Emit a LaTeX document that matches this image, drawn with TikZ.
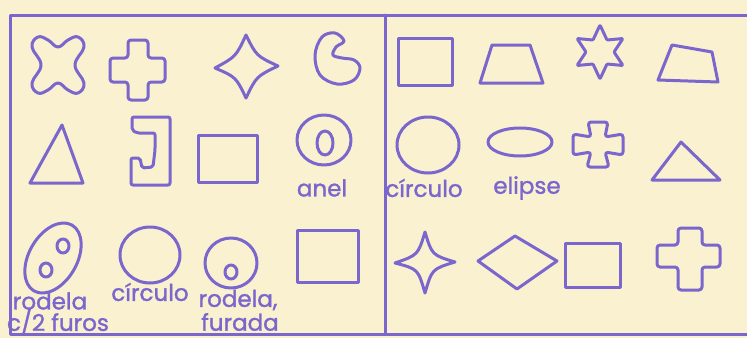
\documentclass[tikz,border=0pt]{standalone}
\usepackage{fontspec}
\setmainfont{Poppins}
\newfontfamily\handfont[FakeBold=1.3]{Poppins}
\usetikzlibrary{calc}
\definecolor{penpurple}{RGB}{122,102,204}
\definecolor{paper}{RGB}{250,241,208}
\tikzset{
  pen/.style={draw=penpurple, line width=3pt, line join=round, line cap=round},
  hand/.style={text=penpurple, font=\handfont\fontsize{23}{23}\selectfont, inner sep=0pt},
}

\begin{document}
\begin{tikzpicture}[x=1pt,y=-1pt]
\fill[paper] (0,0) rectangle (747,338);
\useasboundingbox (0,0) rectangle (747,338);
% frame and divider
\coordinate (TL) at (10,15);
\coordinate (BL) at (10,334);
\coordinate (TM) at (385,15);
\coordinate (BM) at (385,334);
\draw[pen] (747,15) -- (TL) -- (BL) -- (747,334);
\draw[pen] (TM) -- (BM);

% left panel, first row
\draw[pen] plot[smooth cycle, tension=0.7] coordinates {(32,47) (38,37) (48,40) (58,47) (68,40) (78,37) (84,47) (75,65) (84,83) (78,93) (68,90) (58,83) (48,90) (38,93) (32,83) (41,65)};
\draw[pen, rounded corners=3pt] (128,40) -- (148,40) -- (148,58) -- (165,58) -- (165,82) -- (148,82) -- (148,100) -- (128,100) -- (128,82) -- (110,82) -- (110,58) -- (128,58) -- cycle;
\coordinate (dc) at (246,66);
\coordinate (dt) at (246,35);
\coordinate (dr) at (278,66);
\coordinate (db) at (246,98);
\coordinate (dl) at (215,68);
\draw[pen] (dt) .. controls ($(dt)!.5!(dr)!.35!(dc)$) .. (dr)
  .. controls ($(dr)!.5!(db)!.35!(dc)$) .. (db)
  .. controls ($(db)!.5!(dl)!.35!(dc)$) .. (dl)
  .. controls ($(dl)!.5!(dt)!.35!(dc)$) .. (dt) -- cycle;
\draw[pen] plot[smooth cycle, tension=0.6] coordinates {(344,41) (335,33) (322,37) (315,55) (320,75) (337,84) (354,80) (360,68) (354,60) (342,58) (333,55) (336,47)};

% left panel, second row
\draw[pen] (30,183) -- (62,125) -- (83,183) -- cycle;
\draw[pen, rounded corners=2pt] (132,117) -- (170,117) -- (170,185) -- (131,185) -- (131,158) -- (140,158) -- (142,168) -- (153,167) -- (155,150) -- (155,133) -- (137,133) -- (132,130) -- cycle;
\draw[pen] (198,135) rectangle (257,182);
\draw[pen] (324,140) ellipse [x radius=27pt, y radius=25pt];
\draw[pen] (325,143) ellipse [x radius=8pt, y radius=12pt];
\node[hand] (anel) at (322,188) {anel};

% left panel, third row
\draw[pen, rotate around={-30:(53,258)}] (53,258) ellipse [x radius=24pt, y radius=38pt];
\draw[pen] (63,246) ellipse [x radius=6pt, y radius=7pt];
\draw[pen] (46,270) ellipse [x radius=6pt, y radius=7pt];
\node[hand] (rodA) at (50,301) {rodela};
\node[hand] (furos) at (58,322) {c/2 furos};
\draw[pen] (150,255) ellipse [x radius=30pt, y radius=28pt];
\node[hand] (circA) at (150,292) {círculo};
\draw[pen] (231,263) ellipse [x radius=26pt, y radius=25pt];
\draw[pen] (231,272) ellipse [x radius=6pt, y radius=7pt];
\node[hand] (rodB) at (238,300) {rodela,};
\node[hand] (furada) at (240,322) {furada};
\draw[pen] (297,230) rectangle (358,282);

% right panel, first row
\draw[pen] (398,38) rectangle (452,85);
\draw[pen] (480,83) -- (492,45) -- (530,45) -- (543,83) -- cycle;
\draw[pen, rounded corners=1pt] (600,25) -- (607,40) -- (623,38.5) -- (614,52) -- (623,65.5) -- (607,64) -- (600,79) -- (593,64) -- (577,65.5) -- (586,52) -- (577,38.5) -- (593,40) -- cycle;
\draw[pen] (672,45) -- (712,52) -- (718,82) -- (658,80) -- cycle;

% right panel, second row
\draw[pen] (428,145) ellipse [x radius=31pt, y radius=28pt];
\node[hand] (circB) at (424,188) {círculo};
\draw[pen] (520,142) ellipse [x radius=32pt, y radius=14pt];
\node[hand] (elipse) at (527,188) {elipse};
\draw[pen, rounded corners=3pt] (588,122) -- (608,122) -- (605,137) -- (623,134) -- (623,155) -- (605,152) -- (609,167) -- (587,167) -- (591,152) -- (573,155) -- (573,134) -- (591,137) -- cycle;
\draw[pen] (652,180) -- (681,142) -- (720,180) -- cycle;

% right panel, third row
\draw[pen] (425,232) .. controls (432,255) .. (455,262) .. controls (432,269) .. (425,293) .. controls (418,269) .. (395,263) .. controls (418,255) .. (425,232) -- cycle;
\draw[pen] (478,261) -- (515,236) -- (557,261) -- (517,289) -- cycle;
\draw[pen] (565,243) rectangle (620,287);
\draw[pen, rounded corners=3pt] (678,228) -- (702,228) -- (702,245) -- (720,245) -- (720,267) -- (702,267) -- (702,290) -- (678,290) -- (678,267) -- (657,267) -- (657,245) -- (678,245) -- cycle;
\end{tikzpicture}
\end{document}
